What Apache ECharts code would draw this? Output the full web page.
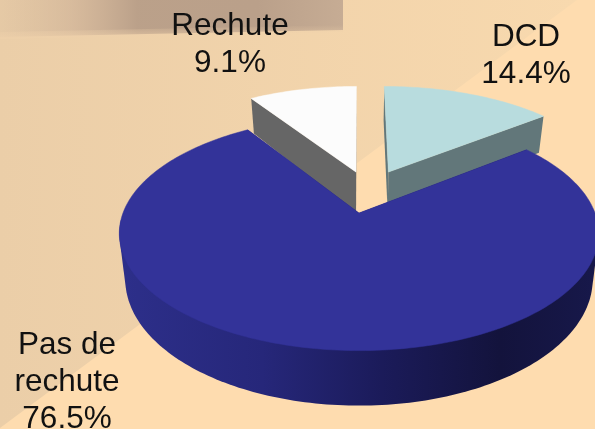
<!DOCTYPE html>
<html><head><meta charset="utf-8">
<style>html,body{margin:0;padding:0;background:#fddbad}#c{width:595px;height:429px}</style>
<script src="https://cdn.jsdelivr.net/npm/echarts@6/dist/echarts.min.js"></script>
</head><body><div id="c"></div>
<script>
const categories = ['DCD', 'Pas de rechute', 'Rechute'];
const values = [14.4, 76.5, 9.1];
const labelLines = [['DCD'], ['Pas de', 'rechute'], ['Rechute']];

const topColors = ['#b8dcde', '#333399', '#fcfcfc'];
const wallColors = ['#62777a', '#2b2d87', '#666666'];
const explode = [[0.133, -0.385], [0, 0], [-0.0136, -0.385]];
const labelPos = [[526, 56], [67, 382.5], [230, 44.5]];

const P = {cx: 359, cy: 213, ax: 236, ay: 113.5, k: 0.175};
const B = {sx: 0.975, ax: 132, ay: 97, sy: 1.079};
const total = values.reduce((a, b) => a + b, 0);

function project(u, v) {
  const w = 1 - P.k * v;
  return [P.cx + P.ax * u / w, P.cy + P.ay * v / w];
}
function lower(p) {
  return [P.cx + B.sx * (p[0] - P.cx), B.ax + B.sy * (p[1] - B.ay)];
}
function arcAngles(a0, a1) {
  const n = Math.max(2, Math.ceil((a1 - a0) / 0.02));
  const out = [];
  for (let i = 0; i <= n; i++) out.push(a0 + (a1 - a0) * i / n);
  return out;
}
function hull(points) {
  const p = points.slice().sort((a, b) => a[0] - b[0] || a[1] - b[1]);
  const cross = (o, a, b) => (a[0] - o[0]) * (b[1] - o[1]) - (a[1] - o[1]) * (b[0] - o[0]);
  const half = list => {
    const h = [];
    for (const q of list) {
      while (h.length >= 2 && cross(h[h.length - 2], h[h.length - 1], q) <= 0) h.pop();
      h.push(q);
    }
    h.pop();
    return h;
  };
  return half(p).concat(half(p.slice().reverse()));
}

const rimGradient = {
  type: 'linear', global: true, x: 120, y: 0, x2: 595, y2: 0,
  colorStops: [
    {offset: 0, color: '#2d2f8a'}, {offset: 0.3, color: '#26277a'},
    {offset: 0.55, color: '#1b1b5a'}, {offset: 0.8, color: '#13133c'},
    {offset: 1, color: '#17184a'}
  ]
};

function renderItem(i, api) {
  const val = api.value(0);
  let before = 0;
  for (let j = 0; j < i; j++) before += values[j];
  const a0 = before / total * Math.PI * 2;
  const a1 = (before + val) / total * Math.PI * 2;
  const off = explode[i];
  const angles = arcAngles(a0, a1);
  const arc = angles.map(a => project(off[0] + Math.sin(a), off[1] - Math.cos(a)));
  const apex = project(off[0], off[1]);
  const lowArc = arc.map(lower);
  const children = [];
  const fill = i === 1 ? rimGradient : wallColors[i];
  const wall = pts => ({type: 'polygon', shape: {points: pts}, style: {fill: fill}});
  // cut faces
  children.push(wall([apex, arc[0], lowArc[0], lower(apex)]));
  children.push(wall([apex, arc[arc.length - 1], lowArc[lowArc.length - 1], lower(apex)]));
  // rim: hull of the viewer-facing part of the arc, top and bottom edges
  const front = [];
  angles.forEach((a, s) => {
    if (off[1] - Math.cos(a) > 0.05) front.push(arc[s], lowArc[s]);
  });
  if (front.length > 4) children.push(wall(hull(front)));
  // top
  children.push({type: 'polygon', shape: {points: [apex].concat(arc)},
    style: {fill: topColors[i], stroke: topColors[i], lineWidth: 0.5}});
  // label
  const pct = val.toFixed(1) + '%';
  children.push({type: 'text', x: labelPos[i][0], y: labelPos[i][1], z2: 50,
    style: {text: labelLines[i].concat(pct).join('\n'), fill: '#111',
      font: '31.5px "Liberation Sans", Arial, sans-serif', lineHeight: 37,
      align: 'center', verticalAlign: 'middle'}});
  return {type: 'group', children};
}

// draw order: small slices behind the large one
const drawOrder = [0, 2, 1];

const chart = echarts.init(document.getElementById('c'), null, {renderer: 'canvas', width: 595, height: 429});
chart.setOption({
  animation: false,
  backgroundColor: '#fedcaf',
  graphic: {elements: [
    {type: 'polygon', z: -10, silent: true, shape: {points: [[0, 0], [577, 0], [0, 428]]},
      style: {fill: {type: 'linear', x: 0, y: 0, x2: 1, y2: 0,
        colorStops: [{offset: 0, color: '#ebcea8'}, {offset: 1, color: '#f8d9ae'}]}}},
    {type: 'polygon', z: -8, silent: true, shape: {points: [[0, 0], [343, 0], [343, 30], [0, 37]]},
      style: {fill: {type: 'linear', x: 0, y: 0, x2: 1, y2: 0,
        colorStops: [{offset: 0, color: 'rgba(200,175,150,0.15)'}, {offset: 0.2, color: 'rgba(200,172,148,0.55)'},
          {offset: 0.4, color: 'rgba(184,158,136,0.95)'}, {offset: 0.75, color: 'rgba(186,160,138,1)'},
          {offset: 1, color: 'rgba(198,172,148,1)'}]}}},
    {type: 'polygon', z: -7, silent: true, shape: {points: [[0, 32], [343, 25], [343, 32], [0, 39]]},
      style: {fill: {type: 'linear', x: 0, y: 0, x2: 0, y2: 1,
        colorStops: [{offset: 0, color: 'rgba(238,208,170,0)'}, {offset: 1, color: 'rgba(238,208,170,0.7)'}]}}}
  ]},
  series: drawOrder.map(idx => ({
    type: 'custom',
    name: categories[idx],
    coordinateSystem: 'none',
    silent: true,
    z: idx === 1 ? 3 : 2,
    renderItem: (params, api) => renderItem(idx, api),
    data: [[values[idx]]]
  }))
});
</script></body></html>
